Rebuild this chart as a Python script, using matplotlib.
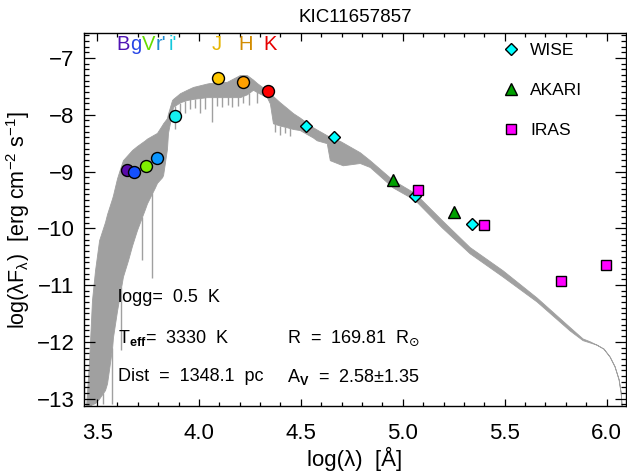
import numpy as np
import matplotlib
matplotlib.use("Agg")
import matplotlib.pyplot as plt
from matplotlib.ticker import MultipleLocator

plt.rcParams['font.family'] = ['Liberation Sans', 'DejaVu Sans']
plt.rcParams['mathtext.fontset'] = 'custom'
plt.rcParams['mathtext.rm'] = 'Liberation Sans'
plt.rcParams['mathtext.it'] = 'Liberation Sans'
plt.rcParams['mathtext.bf'] = 'Liberation Sans:bold'
plt.rcParams['mathtext.sf'] = 'DejaVu Sans'

# model spectrum envelope: log(lambda), upper / lower log(lambda F_lambda)
model_wave = [3.446, 3.461, 3.475, 3.490, 3.510, 3.539, 3.549, 3.574, 3.578, 3.598,
              3.613, 3.627, 3.652, 3.672, 3.696, 3.735, 3.745, 3.784, 3.794, 3.819,
              3.824, 3.843, 3.848, 3.868, 3.873, 3.907, 3.941, 3.971, 4.039, 4.054,
              4.137, 4.201, 4.235, 4.265, 4.284, 4.333, 4.348, 4.363, 4.397, 4.431,
              4.461, 4.495, 4.559, 4.578, 4.627, 4.642, 4.691, 4.706, 4.789, 4.838,
              4.951, 5.059, 5.190, 5.328, 5.490, 5.657, 5.819, 5.882, 5.917, 5.951,
              5.985, 6.015, 6.039, 6.059, 6.069, 6.074]
model_upper = [-13.14, -12.33, -11.27, -10.74, -10.21, -9.89, -9.75, -9.47, -9.42, -9.12,
               -8.95, -8.80, -8.70, -8.62, -8.55, -8.45, -8.42, -8.34, -8.32, -8.18,
               -8.15, -8.06, -7.98, -7.74, -7.72, -7.62, -7.56, -7.51, -7.45, -7.44,
               -7.42, -7.30, -7.30, -7.38, -7.44, -7.57, -7.60, -7.67, -7.78, -7.88,
               -7.97, -8.05, -8.22, -8.26, -8.36, -8.39, -8.46, -8.49, -8.66, -8.80,
               -9.15, -9.38, -9.85, -10.33, -10.74, -11.22, -11.74, -11.94, -11.99, -12.05,
               -12.12, -12.26, -12.43, -12.66, -12.89, -13.14]
model_lower = [-13.14, -13.14, -13.10, -13.08, -13.00, -12.85, -12.73, -12.10, -11.92, -11.45,
               -11.14, -10.85, -10.56, -10.30, -10.03, -9.66, -9.56, -9.28, -9.20, -9.10,
               -9.06, -8.60, -8.32, -7.95, -7.86, -7.78, -7.74, -7.72, -7.69, -7.69,
               -7.69, -7.69, -7.64, -7.56, -7.60, -7.69, -7.80, -8.15, -8.19, -8.22,
               -8.25, -8.27, -8.40, -8.45, -8.50, -8.80, -8.87, -8.89, -8.85, -8.92,
               -9.28, -9.50, -9.98, -10.44, -10.85, -11.29, -11.80, -11.97, -12.01, -12.05,
               -12.12, -12.26, -12.43, -12.66, -12.89, -13.14]

# deep absorption features: position and depth
line_wave = [3.529, 3.574, 3.618, 3.721, 3.770, 3.882, 3.905, 3.931, 3.955, 3.980,
             4.005, 4.030, 4.064, 4.090, 4.113, 4.140, 4.162, 4.190, 4.216, 4.245,
             4.284, 4.375, 4.400, 4.420, 4.445]
line_depth = [-13.10, -13.10, -12.15, -10.56, -10.88, -8.25, -7.95, -7.97, -7.90, -7.88,
              -7.97, -7.90, -8.13, -7.85, -7.87, -7.82, -7.87, -7.85, -7.80, -7.82,
              -7.80, -8.30, -8.35, -8.32, -8.38]

# optical / 2MASS photometry
phot_band = ['B', 'g', 'V', "r'", "i'", 'J', 'H', 'K']
phot_wave = [3.646, 3.681, 3.740, 3.794, 3.882, 4.092, 4.214, 4.337]
phot_flux = [-8.975, -9.005, -8.91, -8.76, -8.02, -7.358, -7.42, -7.58]
phot_color = ['#5a0aaa', '#1450ff', '#80f000', '#0a96ff', '#14f0f0', '#ffc800', '#ffa000', '#ff0000']
label_color = ['#5014b4', '#2846e6', '#64dc00', '#1e8cd2', '#14c8dc', '#e6b400', '#d28c00', '#e60000']
label_wave = [3.595, 3.662, 3.718, 3.785, 3.852, 4.064, 4.191, 4.314]

wise_wave = [4.523, 4.662, 5.060, 5.341]
wise_flux = [-8.20, -8.39, -9.43, -9.93]
akari_wave = [4.952, 5.250]
akari_flux = [-9.15, -9.71]
iras_wave = [5.077, 5.397, 5.776, 5.999]
iras_flux = [-9.33, -9.95, -10.93, -10.65]

fig = plt.figure(figsize=(6.27, 4.75), dpi=100)
ax = fig.add_axes([0.134, 0.1453, 0.864, 0.7852])

gray = '#a0a0a0'
ax.fill_between(model_wave, model_lower, model_upper, color=gray, lw=0.6, edgecolor=gray)
ax.vlines(line_wave, line_depth, np.interp(line_wave, model_wave, model_lower),
          color=gray, lw=1.0)

for w, f, c in zip(phot_wave, phot_flux, phot_color):
    ax.plot(w, f, 'o', ms=8.6, mfc=c, mec='black', mew=1.0, zorder=5)
for name, w, c in zip(phot_band, label_wave, label_color):
    ax.text(w, -6.77, name, color=c, fontsize=14.5, ha='left', va='center')

ax.plot(wise_wave, wise_flux, 'D', ms=6.5, mfc='#00ffff', mec='black', mew=1.0,
        ls='none', zorder=5, label='WISE')
ax.plot(akari_wave, akari_flux, '^', ms=8.5, mfc='#00a000', mec='black', mew=1.0,
        ls='none', zorder=5, label='AKARI')
ax.plot(iras_wave, iras_flux, 's', ms=7.0, mfc='#ff00ff', mec='black', mew=1.0,
        ls='none', zorder=5, label='IRAS')

ax.legend(loc='upper left', bbox_to_anchor=(0.772, 0.974), frameon=False, numpoints=1,
          handlelength=1.0, handletextpad=0.6, labelspacing=1.43, fontsize=12.5,
          borderaxespad=0, borderpad=0)

# fit parameters
ax.text(0.063, 0.292, 'logg=  0.5  K', transform=ax.transAxes, fontsize=13, va='center')
ax.text(0.063, 0.182, r'T$_{\mathbf{eff}}$=  3330  K', transform=ax.transAxes, fontsize=13, va='center')
ax.text(0.375, 0.182, r'R  =  169.81  R$_{\mathsf{⊙}}$', transform=ax.transAxes, fontsize=13, va='center')
ax.text(0.063, 0.078, 'Dist  =  1348.1  pc', transform=ax.transAxes, fontsize=13, va='center')
ax.text(0.375, 0.078, r'A$_{\mathbf{V}}$  =  2.58±1.35', transform=ax.transAxes, fontsize=13, va='center')

ax.set_xlim(3.436, 6.094)
ax.set_ylim(-13.13, -6.56)
ax.xaxis.set_major_locator(MultipleLocator(0.5))
ax.xaxis.set_minor_locator(MultipleLocator(0.1))
ax.yaxis.set_major_locator(MultipleLocator(1))
ax.yaxis.set_minor_locator(MultipleLocator(0.1))
ax.xaxis.set_major_formatter(matplotlib.ticker.FormatStrFormatter('%.1f'))
ax.tick_params(axis='both', which='both', direction='in', top=True, right=True,
               labelsize=16, width=0.9)
ax.tick_params(axis='x', which='major', length=5.4, pad=12)
ax.tick_params(axis='x', which='minor', length=2.7)
ax.tick_params(axis='y', which='major', length=7.8, pad=7)
ax.tick_params(axis='y', which='minor', length=3.9)
for s in ax.spines.values():
    s.set_linewidth(1.0)

ax.set_xlabel('log(λ)  [Å]', fontsize=16, labelpad=2)
ax.set_ylabel(r'log(λF$_λ$)  [erg cm$^{-2}$ s$^{-1}$]', fontsize=15.5, labelpad=3)
ax.set_title('KIC11657857', fontsize=13.5, pad=8)

fig.savefig('out.png', dpi=100)
